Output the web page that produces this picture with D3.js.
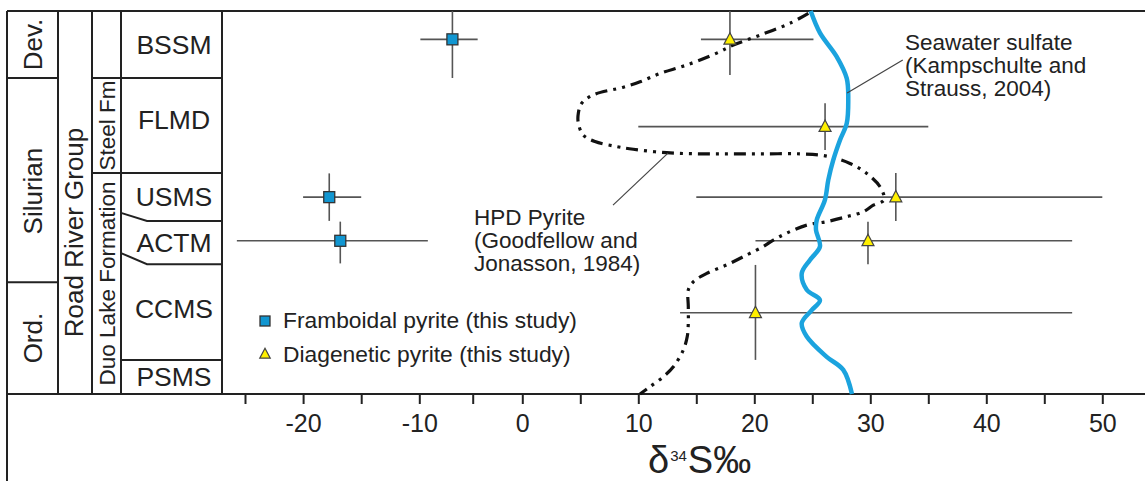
<!DOCTYPE html>
<html>
<head>
<meta charset="utf-8">
<script src="https://cdn.jsdelivr.net/npm/d3@7"></script>
<style>
  body { margin: 0; background: #fff; }
  svg { display: block; }
  text { font-family: "Liberation Sans", Arial, Helvetica, sans-serif; fill: #222; }
</style>
</head>
<body>
<div id="chart"></div>
<script>
// stratigraphy, heights are relative (0 = base of section, 100 = top)
const periods = [
    {name: "Dev.", base: 82.5, top: 100},
    {name: "Silurian", base: 29.2, top: 82.5},
    {name: "Ord.", base: 0, top: 29.2},
]
const groups = [
    {name: "Road River Group", base: 0, top: 100},
]
const formations = [
    {name: "Steel Fm", base: 57.7, top: 82.5},
    {name: "Duo Lake Formation", base: 0, top: 57.7},
]
// baseW = height of the (slanted) base at the left edge of the column
const members = [
    {name: "BSSM", base: 82.5, top: 100},
    {name: "FLMD", base: 57.7, top: 82.5},
    {name: "USMS", base: 45.2, top: 57.7, baseW: 47.3},
    {name: "ACTM", base: 33.9, top: 45.2, baseW: 36.8},
    {name: "CCMS", base: 8.9, top: 33.9},
    {name: "PSMS", base: 0, top: 8.9},
]

// samples: d34S value with x range and height range
const framboidal = [
    {unit: "BSSM", d34S: -6.9, lo: -9.9, hi: -4.5, h: 92.6, hLo: 82.5, hHi: 100},
    {unit: "USMS", d34S: -17.75, lo: -20, hi: -15, h: 51.4, hLo: 45.2, hHi: 57.6},
    {unit: "ACTM", d34S: -16.8, lo: -25.7, hi: -9.2, h: 40.0, hLo: 34.1, hHi: 45.0},
]
const diagenetic = [
    {unit: "BSSM", d34S: 17.9, lo: 15.4, hi: 25.1, h: 92.6, hLo: 83.3, hHi: 100},
    {unit: "FLMD", d34S: 26.1, lo: 10.0, hi: 35.0, h: 69.8, hLo: 63.7, hHi: 75.9},
    {unit: "USMS", d34S: 32.2, lo: 15.0, hi: 50.0, h: 51.4, hLo: 45.2, hHi: 57.7},
    {unit: "ACTM", d34S: 29.8, lo: 20.1, hi: 47.4, h: 40.0, hLo: 33.9, hHi: 45.0},
    {unit: "CCMS", d34S: 20.1, lo: 13.6, hi: 47.4, h: 21.2, hLo: 8.9, hHi: 33.7},
]

// curves: [height, d34S]
const seawaterSulfate = [
    [100, 24.86], [94.3, 25.66], [88.1, 27.10], [82.4, 27.97], [76.8, 28.10], [70.7, 27.97],
    [66.3, 27.39], [61.1, 26.81], [55.9, 26.38], [50.7, 26.09], [45.4, 25.38], [42.8, 25.32],
    [38.5, 25.66], [35.0, 24.80], [31.5, 24.09], [27.2, 24.52], [24.5, 25.66], [21.9, 24.95],
    [18.5, 24.09], [15.0, 24.52], [9.7, 26.24], [6.3, 27.67], [0, 28.42]
]
const hpdPyrite = [
    [99.4, 24.66], [96.8, 23.08], [93.7, 20.49], [91.1, 18.19], [89.0, 16.76], [85.9, 14.17],
    [83.7, 11.87], [81.5, 10.15], [80.1, 8.71], [78.1, 6.12], [75.9, 5.12], [73.3, 4.83],
    [70.7, 4.83], [67.6, 5.26], [65.9, 6.27], [64.6, 8.14], [63.9, 9.57], [63.0, 12.45],
    [62.7, 15.32], [62.7, 18.19], [62.7, 21.07], [62.7, 23.94], [62.1, 26.24], [60.2, 28.25],
    [57.6, 29.69], [54.1, 30.84], [50.7, 31.18], [49.3, 30.26], [47.6, 29.40], [46.3, 27.97],
    [45.0, 26.24], [44.1, 24.52], [42.0, 22.79], [40.2, 21.64], [38.5, 20.78], [36.3, 19.34],
    [33.7, 17.62], [31.5, 15.90], [29.3, 14.74], [27.2, 14.31], [22.8, 14.31], [18.5, 14.31],
    [15.0, 14.22], [11.5, 13.88], [7.1, 13.02], [4.5, 12.16], [1.9, 11.01], [0, 10.15]
]

const xTicks = d3.range(-25, 51, 5)
const legendItems = ["Framboidal pyrite (this study)", "Diagenetic pyrite (this study)"]
const seawaterLabel = ["Seawater sulfate", "(Kampschulte and", "Strauss, 2004)"]
const hpdLabel = ["HPD Pyrite", "(Goodfellow and", "Jonasson, 1984)"]

// layout
const width = 1145, height = 481
const col = [7, 58, 92, 121, 222]
const line_color = "#222", err_color = "#555",
    blue = "#1ba3de", square_fill = "#1196d1", tri_fill = "#fff000"
const labelShift = {"Silurian": 11, "Road River Group": 30, "FLMD": -6, "CCMS": -3}

// original axis is slightly uneven, so piecewise
const x = d3.scaleLinear()
    .domain([-25, -10, -5, 0, 50])
    .range([245, 419.3, 472.7, 522.3, 1102.3])
const y = d3.scaleLinear().domain([0, 100]).range([394, 11])

const svg = d3.select("#chart").append("svg")
    .attr("width", width)
    .attr("height", height)

svg.append("rect").attr("width", width).attr("height", height).attr("fill", "#fff")

// ---- stratigraphic column
const strat = svg.append("g")
    .attr("stroke", line_color)
    .attr("stroke-width", 2)
    .attr("fill", "none")

strat.append("line").attr("x1", col[0]).attr("x2", width).attr("y1", y(100)).attr("y2", y(100))
strat.append("line").attr("x1", col[0]).attr("x2", width).attr("y1", y(0)).attr("y2", y(0))
strat.append("line").attr("x1", col[0]).attr("x2", col[0]).attr("y1", y(100)).attr("y2", height)
col.slice(1).forEach(cx => {
    strat.append("line").attr("x1", cx).attr("x2", cx).attr("y1", y(100)).attr("y2", y(0))
})

periods.filter(d => d.base > 0).forEach(d => {
    strat.append("line").attr("x1", col[0]).attr("x2", col[1])
        .attr("y1", y(d.base)).attr("y2", y(d.base))
})
formations.forEach(d => {
    [d.base, d.top].filter(v => v > 0 && v < 100).forEach(v => {
        strat.append("line").attr("x1", col[2]).attr("x2", col[3])
            .attr("y1", y(v)).attr("y2", y(v))
    })
})
members.filter(d => d.base > 0).forEach(d => {
    const yb = y(d.base)
    if (d.baseW) {
        strat.append("path")
            .attr("d", `M${col[3]},${y(d.baseW)}L${col[3] + 26},${yb}L${col[4]},${yb}`)
    } else {
        strat.append("line").attr("x1", col[3]).attr("x2", col[4]).attr("y1", yb).attr("y2", yb)
    }
})

function vlabel(list, cx, size) {
    list.forEach(d => {
        const cy = (y(d.base) + y(d.top)) / 2 + (labelShift[d.name] || 0)
        svg.append("text")
            .attr("transform", `translate(${cx},${cy}) rotate(-90)`)
            .attr("text-anchor", "middle")
            .attr("dy", "0.35em")
            .attr("font-size", size)
            .text(d.name)
    })
}
vlabel(periods, (col[0] + col[1]) / 2, 26)
vlabel(groups, (col[1] + col[2]) / 2 - 1, 26)
vlabel(formations, (col[2] + col[3]) / 2 + 1, 22.5)

members.forEach(d => {
    const cy = (y(d.base) + y(d.top)) / 2 + (labelShift[d.name] || 0)
    svg.append("text")
        .attr("x", (col[3] + col[4]) / 2 + 2.5)
        .attr("y", cy)
        .attr("dy", "0.35em")
        .attr("text-anchor", "middle")
        .attr("font-size", 26.5)
        .text(d.name)
})

// ---- x axis
const axis = svg.append("g")
    .attr("transform", `translate(0,${y(0)})`)
    .call(d3.axisBottom(x)
        .tickValues(xTicks)
        .tickSize(10)
        .tickPadding(10)
        .tickFormat(d => d % 10 === 0 ? String(d) : ""))
axis.select(".domain").remove()
axis.selectAll(".tick line").attr("stroke", line_color).attr("stroke-width", 2)
axis.selectAll(".tick text")
    .attr("font-size", 25)
    .attr("font-family", "'Liberation Sans', Arial, sans-serif")
    .attr("fill", "#222")

const title = svg.append("text").attr("x", 648).attr("y", 473).attr("font-size", 38)
title.append("tspan").text("δ")
title.append("tspan").attr("dy", -12).attr("dx", 1).attr("font-size", 15).text("34")
title.append("tspan").attr("dy", 12).attr("dx", 1).text("S‰")

// ---- error bars
const bars = svg.append("g").attr("stroke", err_color).attr("stroke-width", 1.6)
framboidal.concat(diagenetic).forEach(d => {
    bars.append("line").attr("x1", x(d.lo)).attr("x2", x(d.hi)).attr("y1", y(d.h)).attr("y2", y(d.h))
    bars.append("line").attr("x1", x(d.d34S)).attr("x2", x(d.d34S)).attr("y1", y(d.hLo)).attr("y2", y(d.hHi))
})

// ---- curves
const curve = d3.line()
    .x(d => x(d[1]))
    .y(d => y(d[0]))
    .curve(d3.curveCatmullRom.alpha(0.5))

svg.append("path")
    .datum(hpdPyrite)
    .attr("d", curve)
    .attr("fill", "none")
    .attr("stroke", "#111")
    .attr("stroke-width", 3.2)
    .attr("stroke-dasharray", "12,6,3,6,3,6")

svg.append("path")
    .datum(seawaterSulfate)
    .attr("d", curve)
    .attr("fill", "none")
    .attr("stroke", blue)
    .attr("stroke-width", 4.5)

// ---- annotations with leader lines
svg.append("line")
    .attr("x1", x(28.0)).attr("y1", y(78.6))
    .attr("x2", x(32.8)).attr("y2", y(87.2))
    .attr("stroke", "#444").attr("stroke-width", 1.2)
svg.append("line")
    .attr("x1", x(12.56)).attr("y1", y(62.9))
    .attr("x2", x(7.82)).attr("y2", y(49.3))
    .attr("stroke", "#444").attr("stroke-width", 1.2)

function block(lines, x0, y0) {
    lines.forEach((s, i) => {
        svg.append("text")
            .attr("x", x0).attr("y", y0 + i * 23)
            .attr("font-size", 22.5)
            .text(s)
    })
}
block(seawaterLabel, 905, 50)
block(hpdLabel, 474, 225)

// ---- markers
function square(g, cx, cy, s) {
    g.append("rect")
        .attr("x", cx - s / 2).attr("y", cy - s / 2)
        .attr("width", s).attr("height", s)
        .attr("fill", square_fill).attr("stroke", "#333").attr("stroke-width", 1.3)
}
function triangle(g, cx, cy, s) {
    g.append("path")
        .attr("d", `M${cx},${cy - s * 0.55}L${cx + s / 2},${cy + s * 0.4}L${cx - s / 2},${cy + s * 0.4}Z`)
        .attr("fill", tri_fill).attr("stroke", "#444").attr("stroke-width", 1.2)
}
const marks = svg.append("g")
framboidal.forEach(d => square(marks, x(d.d34S), y(d.h), 11))
diagenetic.forEach(d => triangle(marks, x(d.d34S), y(d.h), 12))

// ---- legend
const legend = svg.append("g")
square(legend, 265, 321, 10)
triangle(legend, 265, 354, 10.5)
legendItems.forEach((s, i) => {
    legend.append("text")
        .attr("x", 283).attr("y", 328 + i * 34)
        .attr("font-size", 22.8)
        .text(s)
})
</script>
</body>
</html>
